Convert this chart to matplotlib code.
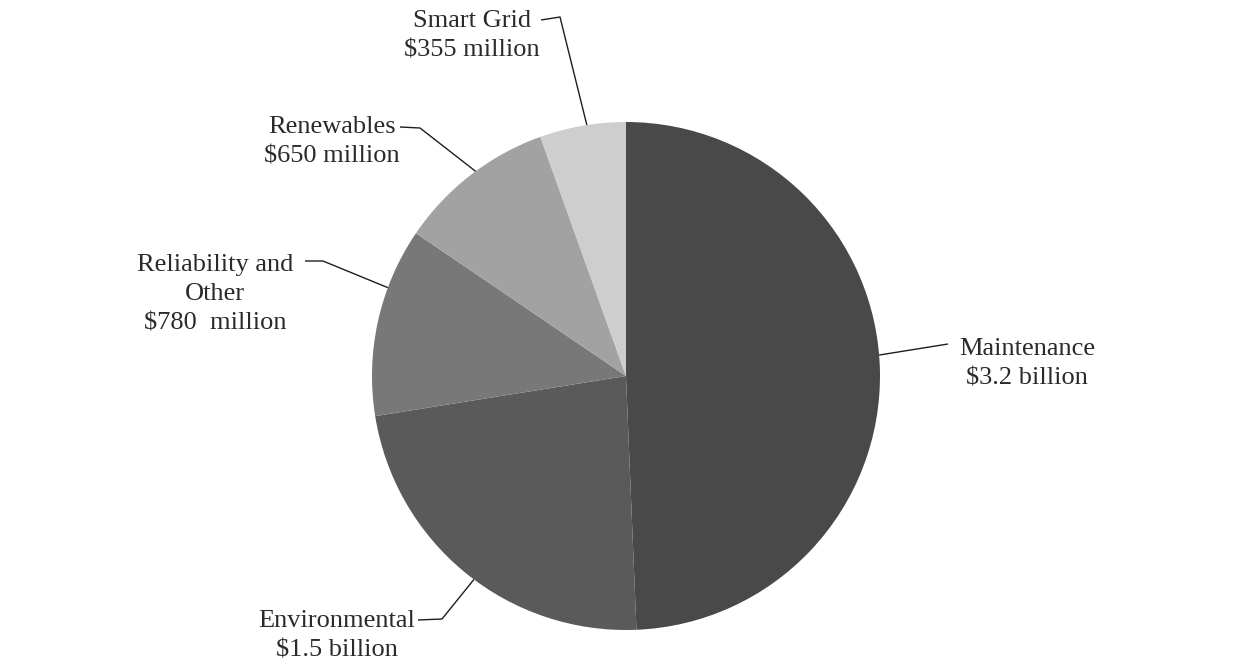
import numpy as np
import matplotlib
matplotlib.use("Agg")
import matplotlib.pyplot as plt

# ---- data ----
categories = ["Maintenance", "Environmental", "Reliability and\nOther", "Renewables", "Smart Grid"]
amount_labels = ["$3.2 billion", "$1.5 billion", "$780  million", "$650 million", "$355 million"]
values_musd = [3200, 1500, 780, 650, 355]
colors = ["#494949", "#5a5a5a", "#787878", "#a2a2a2", "#cecece"]

# ---- layout (pixel coordinates, image y measured from top) ----
W, H = 1235, 667
center_img = (626, 376)
radius = 254
label_pos = [(1027, 364), (337, 636), (215, 294), (332, 142), (472, 36)]
leader_start = [(948, 344), (418, 620), (305, 261), (400, 127), (541, 20)]
leader_elbow = [None, (442, 619), (323, 261), (420, 128), (560, 17)]
anchor_frac = [0.52, 0.53, 0.32, 0.46, 0.45]

fig = plt.figure(figsize=(W / 100, H / 100), dpi=100)
ax = fig.add_axes([0, 0, 1, 1])

def Y(y):
    return H - y

wedges, _ = ax.pie(values_musd, colors=colors, startangle=90, counterclock=False,
                   center=(center_img[0], Y(center_img[1])), radius=radius,
                   wedgeprops=dict(linewidth=0))
ax.set_xlim(0, W)
ax.set_ylim(0, H)
ax.set_aspect("auto")
ax.axis("off")

font = dict(family=["Liberation Serif", "DejaVu Serif"], size=19, color="#2a2a2a")

for i, w in enumerate(wedges):
    t1, t2 = w.theta1, w.theta2
    ang = np.deg2rad(t1 + anchor_frac[i] * (t2 - t1))
    cx, cy = w.center
    ax_pt = (cx + radius * np.cos(ang), cy + radius * np.sin(ang))
    pts = [leader_start[i]]
    if leader_elbow[i] is not None:
        pts.append(leader_elbow[i])
    xs = [p[0] for p in pts] + [ax_pt[0]]
    ys = [Y(p[1]) for p in pts] + [ax_pt[1]]
    ax.plot(xs, ys, color="#1e1e1e", lw=1.0, solid_capstyle="butt")
    lx, ly = label_pos[i]
    ax.text(lx, Y(ly), categories[i] + "\n" + amount_labels[i], ha="center", va="center",
            linespacing=1.42, **font)

fig.savefig("out.png", dpi=100, facecolor="white")
